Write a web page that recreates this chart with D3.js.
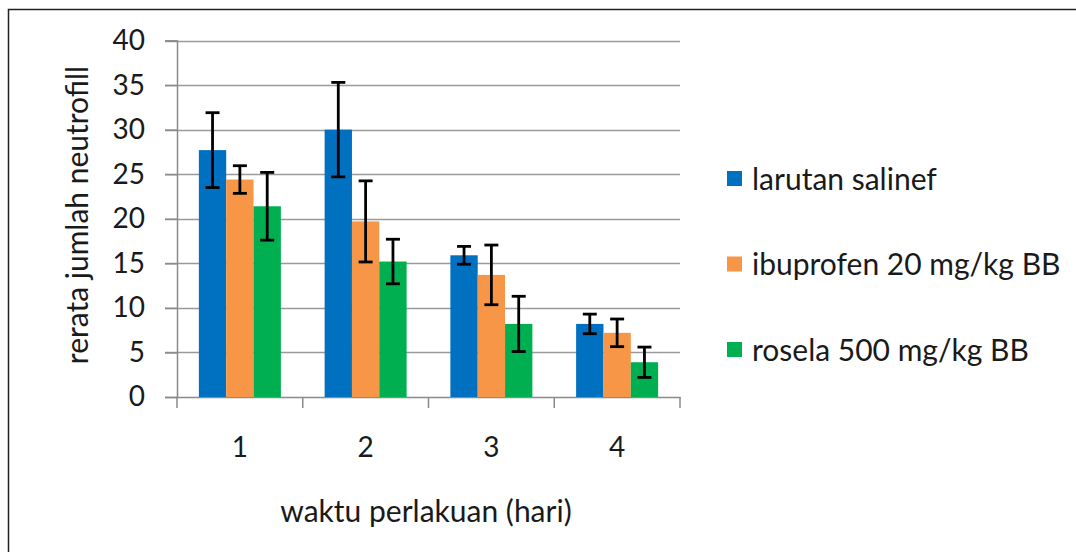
<!DOCTYPE html>
<html>
<head>
<meta charset="utf-8">
<script src="https://cdn.jsdelivr.net/npm/d3@7"></script>
<style>
  body { margin: 0; background: #fff; }
  text { font-family: Lato, "Open Sans", sans-serif; fill: #1a1a1a; }
</style>
</head>
<body>
<div id="chart"></div>
<script>
var days = ["1", "2", "3", "4"];
var seriesNames = ["larutan salinef", "ibuprofen 20 mg/kg BB", "rosela 500 mg/kg BB"];
var colors = ["#0070C0", "#F79646", "#00B050"];
var salineMean = [27.7, 30.0, 15.9, 8.2];
var salineErr = [4.2, 5.3, 1.0, 1.1];
var ibuMean = [24.4, 19.7, 13.7, 7.2];
var ibuErr = [1.55, 4.55, 3.35, 1.55];
var roselaMean = [21.4, 15.2, 8.2, 3.9];
var roselaErr = [3.8, 2.5, 3.1, 1.7];
var yTicks = [0, 5, 10, 15, 20, 25, 30, 35, 40];

var width = 1076, height = 552;
var margin = {left: 177, right: 396, top: 40.5, bottom: 155};

var means = [salineMean, ibuMean, roselaMean];
var errs = [salineErr, ibuErr, roselaErr];

var svg = d3.select("#chart").append("svg")
    .attr("width", width)
    .attr("height", height);

// outer frame
svg.append("path")
    .attr("d", "M8.5,560 V9.5 H1080")
    .attr("fill", "none")
    .attr("stroke", "#222")
    .attr("stroke-width", 1.5);

var x0 = d3.scaleBand()
    .domain(days)
    .range([margin.left, width - margin.right])
    .paddingInner(0).paddingOuter(0);

var x1 = d3.scaleBand()
    .domain(d3.range(3))
    .range([0, x0.bandwidth()])
    .paddingInner(0).paddingOuter(0.8);

var y = d3.scaleLinear()
    .domain([0, 40])
    .range([height - margin.bottom, margin.top]);

// gridlines
svg.append("g").selectAll("line")
    .data(yTicks.slice(1))
    .enter().append("line")
    .attr("x1", margin.left - 12)
    .attr("x2", width - margin.right)
    .attr("y1", function(d) { return Math.round(y(d)) + 0.5; })
    .attr("y2", function(d) { return Math.round(y(d)) + 0.5; })
    .attr("stroke", "#9a9a9a")
    .attr("stroke-width", 1.5);

// y axis
var yAxis = svg.append("g")
    .attr("transform", "translate(" + margin.left + ",0)")
    .call(d3.axisLeft(y).tickValues(yTicks).tickSize(12).tickPadding(20));
yAxis.select(".domain").attr("stroke", "#8a8a8a").attr("stroke-width", 1.5);
yAxis.selectAll(".tick line").attr("stroke", "#8a8a8a").attr("stroke-width", 1.5);
yAxis.selectAll(".tick text")
    .style("font-size", "28px")
    .attr("fill", "#1a1a1a");

// x axis
var xAxis = svg.append("g")
    .attr("transform", "translate(0," + y(0) + ")")
    .call(d3.axisBottom(x0).tickSize(0).tickPadding(40));
xAxis.select(".domain").attr("stroke", "#8a8a8a").attr("stroke-width", 1.5);
xAxis.selectAll(".tick text")
    .style("font-size", "28px")
    .attr("fill", "#1a1a1a");

// category separator ticks
var sepX = days.map(function(d) { return x0(d); }).concat([x0.range()[1]]);
svg.append("g").selectAll("line")
    .data(sepX)
    .enter().append("line")
    .attr("x1", function(d) { return d; })
    .attr("x2", function(d) { return d; })
    .attr("y1", y(0))
    .attr("y2", y(0) + 11)
    .attr("stroke", "#8a8a8a")
    .attr("stroke-width", 1.5);

// bars
var groups = svg.append("g").selectAll("g")
    .data(days)
    .enter().append("g")
    .attr("transform", function(d) { return "translate(" + x0(d) + ",0)"; });

groups.selectAll("rect")
    .data(function(d, i) { return [0, 1, 2].map(function(s) { return {s: s, v: means[s][i]}; }); })
    .enter().append("rect")
    .attr("x", function(d) { return x1(d.s); })
    .attr("width", x1.bandwidth())
    .attr("y", function(d) { return y(d.v); })
    .attr("height", function(d) { return y(0) - y(d.v); })
    .attr("fill", function(d) { return colors[d.s]; });

// error bars
var eb = groups.selectAll("g.err")
    .data(function(d, i) { return [0, 1, 2].map(function(s) { return {s: s, v: means[s][i], e: errs[s][i]}; }); })
    .enter().append("g")
    .attr("class", "err")
    .attr("stroke", "#000")
    .attr("stroke-width", 2.8);

eb.append("line")
    .attr("x1", function(d) { return x1(d.s) + x1.bandwidth() / 2; })
    .attr("x2", function(d) { return x1(d.s) + x1.bandwidth() / 2; })
    .attr("y1", function(d) { return y(d.v + d.e); })
    .attr("y2", function(d) { return y(d.v - d.e); });

[1, -1].forEach(function(sign) {
    eb.append("line")
        .attr("x1", function(d) { return x1(d.s) + x1.bandwidth() / 2 - 7; })
        .attr("x2", function(d) { return x1(d.s) + x1.bandwidth() / 2 + 7; })
        .attr("y1", function(d) { return y(d.v + sign * d.e); })
        .attr("y2", function(d) { return y(d.v + sign * d.e); });
});

// axis titles
svg.append("text")
    .attr("x", 426)
    .attr("y", 522)
    .attr("text-anchor", "middle")
    .style("font-size", "30px")
    .text("waktu perlakuan (hari)");

svg.append("text")
    .attr("transform", "translate(88,215) rotate(-90)")
    .attr("text-anchor", "middle")
    .style("font-size", "30px")
    .text("rerata jumlah neutrofill");

// legend
var legend = svg.append("g")
    .attr("class", "legend");

var legendItems = legend.selectAll("g")
    .data(seriesNames)
    .enter().append("g")
    .attr("transform", function(d, i) { return "translate(727," + (179 + i * 85.5) + ")"; });

legendItems.append("rect")
    .attr("x", 0)
    .attr("y", -8)
    .attr("width", 15)
    .attr("height", 15)
    .attr("fill", function(d, i) { return colors[i]; });

legendItems.append("text")
    .attr("x", 25)
    .attr("y", 0)
    .attr("dy", ".35em")
    .style("font-size", "30px")
    .text(function(d) { return d; });
</script>
</body>
</html>
